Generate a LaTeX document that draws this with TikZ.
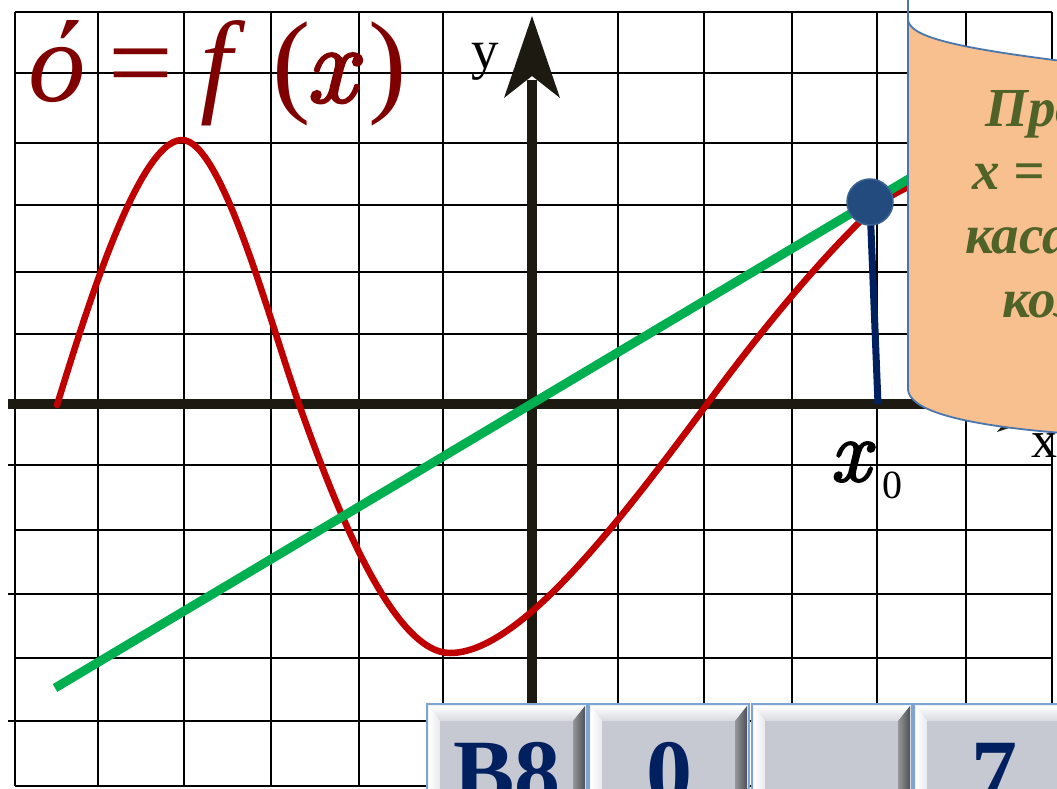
\documentclass[tikz,border=0pt]{standalone}
\usepackage{fontspec}
\setmainfont{Liberation Serif}
\newfontfamily\lmr[FakeBold=2.5]{Latin Modern Roman}
\definecolor{titlered}{HTML}{800000}
\definecolor{curvered}{HTML}{C00000}
\definecolor{tangreen}{HTML}{00B050}
\definecolor{axiscol}{HTML}{1D1B11}
\definecolor{navyline}{HTML}{002060}
\definecolor{dotblue}{HTML}{234B7E}
\definecolor{dotedge}{HTML}{3C6293}
\definecolor{scrollfill}{HTML}{F9C08F}
\definecolor{scrolledge}{HTML}{4A76AE}
\definecolor{scrolltext}{HTML}{4F6228}
\definecolor{btnface}{HTML}{C6C9D1}
\definecolor{btnedge}{HTML}{7FA4D2}
\definecolor{btndark}{HTML}{4E5155}
\definecolor{btntext}{HTML}{002060}
\begin{document}
\begin{tikzpicture}[x=1pt,y=-1pt,
  gridline/.style={line width=1.6pt, black},
  axisline/.style={line width=9.5pt, axiscol},
  fcurve/.style={line width=6.5pt, curvered, line cap=round, line join=round},
  tangentline/.style={line width=9pt, tangreen},
  titletext/.style={anchor=base west, inner sep=0pt, text=titlered, font=\fontsize{115}{120}\selectfont},
  scrolltxt/.style={anchor=base west, inner sep=0pt, text=scrolltext, font=\fontsize{55}{60}\selectfont\bfseries\itshape},
  btnlabel/.style={anchor=base, inner sep=0pt, text=btntext, font=\fontsize{92}{96}\selectfont\bfseries}]
\useasboundingbox (0,0) rectangle (1057,789);
\clip (0,0) rectangle (1057,789);
\fill[white] (0,0) rectangle (1057,789);
% grid
\foreach \gx in {15,98,184,271,359,443,618,704,792,877,966,1052}
  \draw[gridline] (\gx,12) -- (\gx,786);
\foreach \gy in {12,73,143,205,272,334,530,658,786}
  \draw[gridline] (15,\gy) -- (1052,\gy);
\foreach \gy in {465,594,721}
  \draw[gridline] (8,\gy) -- (1052,\gy);
% axes
\draw[axisline] (8,404) -- (1000,404);
\fill[axiscol] (1080,404) -- (997,432) -- (1020,404) -- (997,376) -- cycle;
\draw[line width=10.5pt, axiscol] (532,789) -- (532,80);
\fill[axiscol] (532,16) -- (560,98) -- (532,76) -- (504,98) -- cycle;
\node[anchor=base west, inner sep=0pt, font=\fontsize{55}{60}\selectfont] (ylab) at (471,69) {y};
\node[anchor=base west, inner sep=0pt, font=\fontsize{52}{56}\selectfont] (xlab) at (1031,457) {x};
% function curve
\draw[fcurve] (57,405) .. controls (82,325) and (137,140) .. (182,140)
  .. controls (222,140) and (270,323) .. (300,407)
  .. controls (330,491) and (390,653) .. (450,653)
  .. controls (520,653) and (620,521) .. (710,400)
  .. controls (760,332) and (820,259) .. (870,212)
  .. controls (885,198) and (898,192) .. (912,185);
% tangent
\draw[tangentline] (55,688) -- (912,177);
% point x0
\draw[line width=7pt, navyline] (870,205) -- (878,404);
\node[circle, fill=dotblue, draw=dotedge, line width=1.5pt, minimum size=46pt, inner sep=0pt] (pt) at (870,202) {};
\node[anchor=base west, inner sep=0pt, font=\fontsize{88}{92}\selectfont\lmr\itshape] (xz) at (830,481) {x};
\node[anchor=base west, inner sep=0pt, font=\fontsize{40}{44}\selectfont] (xzs) at (882,498) {0};
% title
\node[titletext, font=\fontsize{115}{120}\selectfont\itshape] (t1) at (28,102) {ό};
\node[titletext] (t2) at (108,102) {=};
\node[titletext, font=\fontsize{115}{120}\selectfont\itshape] (t3) at (200,102) {f};
\node[titletext] (t4) at (272,102) {(};
\node[titletext, font=\fontsize{110}{114}\selectfont\lmr\itshape] (t5) at (306,102) {x};
\node[titletext] (t6) at (368,102) {)};
% scroll
\draw[scrolledge, line width=1.8pt] (908,-5) -- (908,20);
\filldraw[fill=scrollfill, draw=scrolledge, line width=1.8pt]
  (908,20) .. controls (910,36) and (950,47) .. (1062,61) -- (1062,433)
  .. controls (950,424) and (910,408) .. (908,390) -- cycle;
\node[scrolltxt] (s1) at (985,127) {Про};
\node[scrolltxt] (s2) at (972,189) {x =};
\node[scrolltxt] (s3) at (965,253) {каса};
\node[scrolltxt] (s4) at (1002,317) {коэ};
% buttons
\foreach \L/\T [count=\i] in {427/B8, 589/0, 752/{}, 914/7} {
  \fill[white!85!btnedge] (\L,704) rectangle ({\L+160},800);
  \draw[btnedge, line width=1.5pt] (\L,800) -- (\L,704) -- ({\L+160},704) -- ({\L+160},800);
  \shade[top color=white, bottom color=btnface!70!white] ({\L+2},706) -- ({\L+158},706) -- ({\L+146},721) -- ({\L+13},721) -- cycle;
  \shade[left color=white, right color=btnface!40!white] ({\L+2},706) -- ({\L+13},721) -- ({\L+13},800) -- ({\L+2},800) -- cycle;
  \shade[left color=btndark!60!white, right color=btndark] ({\L+158},706) -- ({\L+146},721) -- ({\L+146},800) -- ({\L+158},800) -- cycle;
  \fill[btnface] ({\L+13},721) rectangle ({\L+146},800);
  \node[btnlabel] (b\i) at ({\L+80},803) {\T};
}
\end{tikzpicture}
\end{document}
